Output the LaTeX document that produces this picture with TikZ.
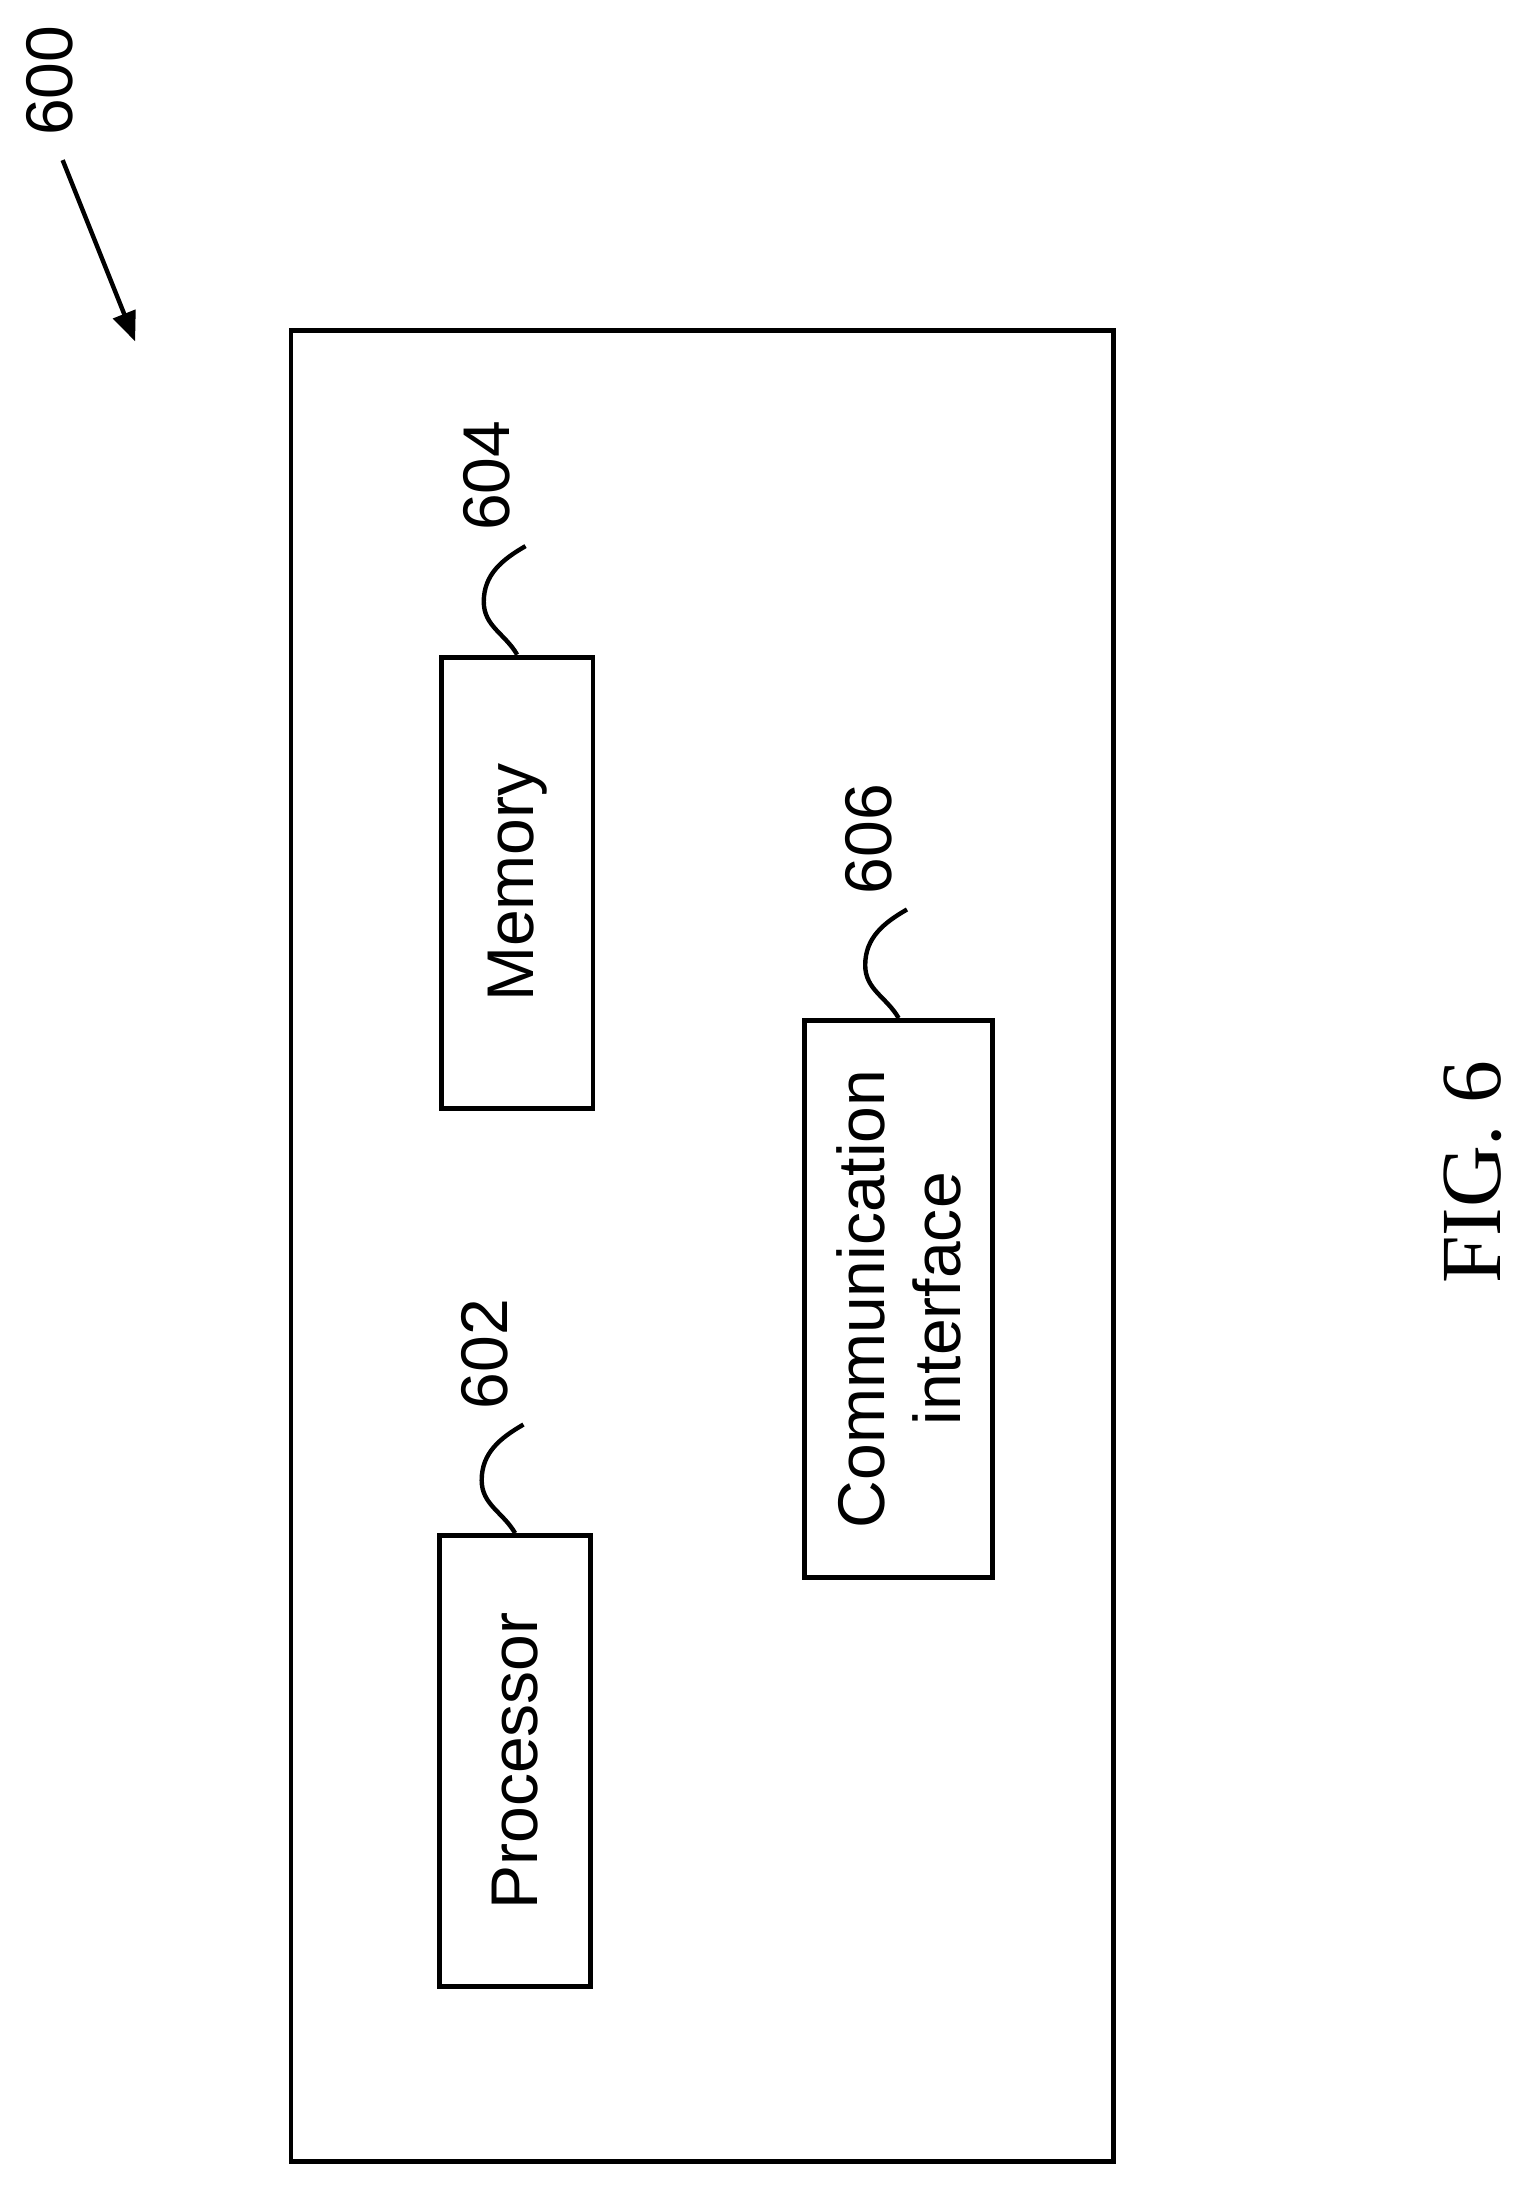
\documentclass[tikz,border=0pt]{standalone}
\usepackage{fontspec}
\setmainfont{Liberation Serif}
\setsansfont{Liberation Sans}
\usetikzlibrary{positioning}
\usetikzlibrary{arrows}
\tikzstyle{blk}=[draw,line width=2pt,shape=rectangle,rotate=90,inner sep=1ex,align=center,font=\sffamily\fontsize{27}{31}\selectfont]
\tikzstyle{lbl}=[rotate=90,anchor=south west,inner sep=6pt,font=\sffamily\fontsize{27}{31}\selectfont]
\tikzstyle{lead}=[line width=1.8pt]
\def\blk{\node[style=blk]}
\def\lbl{\node[style=lbl]}

\begin{document}
\begin{tikzpicture}[x=0.02cm,y=-0.02cm]
      \useasboundingbox (0,0) rectangle (1100,1576);
      % outer
      \blk (dev) [minimum width=26.32cm,minimum height=11.82cm] at (504.5,895) {};
      \node[rotate=90,font=\sffamily\fontsize{27}{31}\selectfont] (n600) at (36,58) {600};
      \coordinate (a600) at (45,115);
      \draw[lead,-triangle 45] (a600) -- (97,245);
      % blocks
      \blk (mem)  [minimum width=6.48cm,minimum height=2.18cm] at (371.5,634)  {Memory};
      \blk (proc) [minimum width=6.48cm,minimum height=2.16cm] at (370,1265)   {Processor};
      \blk (comm) [minimum width=8.0cm,minimum height=2.7cm]   at (645.5,933)  {Communication\\interface};
      % leaders
      \draw[lead] (mem.east)  to[out=120,in=-90] ++(-24,-38) to[out=90,in=-150] ++(30,-40) coordinate (m1);
      \lbl at (m1) {604};
      \draw[lead] (proc.east) to[out=120,in=-90] ++(-24,-38) to[out=90,in=-150] ++(30,-40) coordinate (p1);
      \lbl at (p1) {602};
      \draw[lead] (comm.east) to[out=120,in=-90] ++(-24,-38) to[out=90,in=-150] ++(30,-40) coordinate (c1);
      \lbl at (c1) {606};
      % caption
      \node[rotate=90,font=\fontsize{35}{40}\selectfont] (fig) at (1058,842) {FIG. 6};
\end{tikzpicture}
\end{document}
